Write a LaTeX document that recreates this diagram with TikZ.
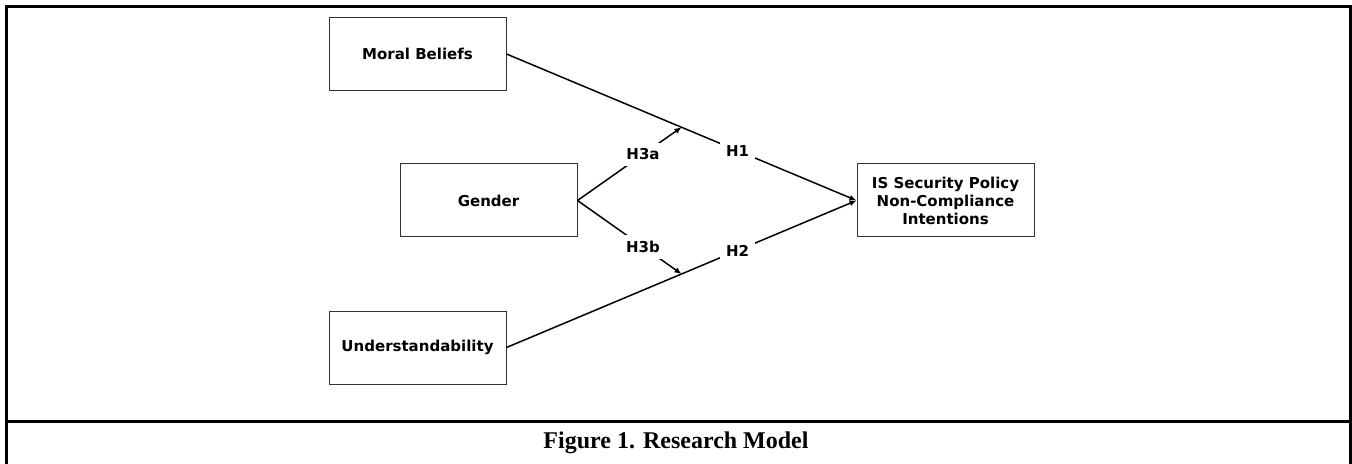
\documentclass[tikz,border=0pt]{standalone}
\usepackage{fontspec}
\setmainfont{Liberation Serif}
\newfontfamily\verd{DejaVu Sans}
\usetikzlibrary{arrows.meta}
\begin{document}
\begin{tikzpicture}[x=0.5pt, y=-0.5pt,
	construct/.style={draw=black!80, line width=0.5pt, minimum width=88.5pt, minimum height=36.5pt, inner sep=0pt, align=center, font=\verd\bfseries\fontsize{7.5}{9}\selectfont},
	hyp/.style={fill=white, inner xsep=3pt, inner ysep=3pt, font=\verd\bfseries\fontsize{7.5}{9}\selectfont},
	link/.style={line width=0.75pt, -{Latex[length=3.5pt, width=3pt]}}]
	\useasboundingbox (0,0) rectangle (1352,464);
	\draw[line width=1.5pt] (6,470) -- (6,7) -- (1350,7) -- (1350,470);
	\draw[line width=1.5pt] (6,421) -- (1350,421);
	\node[font=\bfseries\fontsize{12}{14}\selectfont] (cap) at (676,443) {Figure 1. Research Model};
	\node[construct] (mb) at (417.5,54) {Moral Beliefs};
	\node[construct] (gen) at (488.5,200.5) {Gender};
	\node[construct] (und) at (417.5,347.5) {Understandability};
	\node[construct] (is) at (945.5,200.5) {IS Security Policy\\Non-Compliance\\Intentions};
	\path (mb.east) -- coordinate[pos=0.5] (m1) (is.west);
	\path (und.east) -- coordinate[pos=0.5] (m2) (is.west);
	\draw[link] (mb.east) -- node[hyp, pos=0.66] (h1) {H1} (is.west);
	\draw[link] (und.east) -- node[hyp, pos=0.66] (h2) {H2} (is.west);
	\draw[link] (gen.east) -- node[hyp, pos=0.63] (h3a) {H3a} (m1);
	\draw[link] (gen.east) -- node[hyp, pos=0.63] (h3b) {H3b} (m2);
\end{tikzpicture}
\end{document}
